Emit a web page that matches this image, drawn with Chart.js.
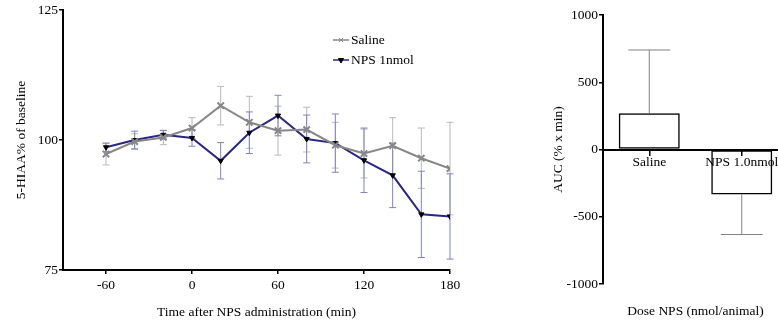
<!DOCTYPE html>
<html>
<head>
<meta charset="utf-8">
<script src="https://cdn.jsdelivr.net/npm/chart.js"></script>
<style>
  body { margin: 0; background: #fff; overflow: hidden; width: 778px; height: 324px; position: relative; }
  canvas { position: absolute; top: 0; }
  #timeChart { left: 0; }
  #aucChart { left: 540px; }
</style>
</head>
<body>
<canvas id="timeChart" width="470" height="324"></canvas>
<canvas id="aucChart" width="250" height="324"></canvas>
<script>
// time course, % of baseline
var times = [-60, -40, -20, 0, 20, 40, 60, 80, 100, 120, 140, 160, 180];
var saline = [97.3, 99.7, 100.5, 102.3, 106.6, 103.4, 101.8, 102.0, 99.0, 97.4, 98.9, 96.5, 94.5];
var salineErr = [2.1, 1.5, 1.4, 2.0, 3.7, 5.0, 4.7, 4.3, 4.4, 4.7, 5.4, 5.8, 8.9];
var nps = [98.6, 100.0, 101.0, 100.4, 96.0, 101.4, 104.7, 100.2, 99.4, 96.1, 93.2, 85.7, 85.3];
var npsErr = [0.8, 1.7, 0.8, 1.6, 3.5, 4.0, 3.9, 4.6, 5.6, 6.2, 6.2, 8.3, 8.2];
var xTicks = [-60, 0, 60, 120, 180];
var yTicks = [75, 100, 125];

// area under curve
var aucLabels = ['Saline', 'NPS 1.0nmol'];
var auc = [270, -335];
var aucErr = [470, 297];

Chart.defaults.font.family = "'Liberation Serif', 'Times New Roman', serif";
Chart.defaults.font.size = 13.5;
Chart.defaults.color = '#000';

// vertical error bars drawn from the dataset's "errors" array
var errorBars = {
  id: 'errorBars',
  beforeDatasetsDraw: function(chart) {
    var ctx = chart.ctx;
    var yScale = chart.scales.y;
    chart.data.datasets.forEach(function(ds, i) {
      if (!ds.errors) return;
      var meta = chart.getDatasetMeta(i);
      ctx.save();
      ctx.strokeStyle = ds.errorColor;
      ctx.lineWidth = 1;
      meta.data.forEach(function(el, j) {
        var v = ds.data[j];
        v = typeof v === 'object' ? v.y : v;
        var e = ds.errors[j];
        var hi = v + e, lo = v - e;
        if (ds.errorAway) { if (v >= 0) lo = v; else hi = v; }
        var yHi = yScale.getPixelForValue(hi), yLo = yScale.getPixelForValue(lo);
        var w = ds.capWidth;
        ctx.beginPath();
        ctx.moveTo(el.x, yHi); ctx.lineTo(el.x, yLo);
        if (!ds.errorAway || v >= 0) { ctx.moveTo(el.x - w, yHi); ctx.lineTo(el.x + w, yHi); }
        if (!ds.errorAway || v < 0) { ctx.moveTo(el.x - w, yLo); ctx.lineTo(el.x + w, yLo); }
        ctx.stroke();
      });
      ctx.restore();
    });
  }
};

// small legend with line + marker, inside the plot
var lineLegend = {
  id: 'lineLegend',
  afterDraw: function(chart) {
    var ctx = chart.ctx;
    var area = chart.chartArea;
    chart.data.datasets.forEach(function(ds, i) {
      var x = area.left + 270, y = area.top + 30 + i * 20;
      ctx.save();
      ctx.strokeStyle = ds.borderColor;
      ctx.lineWidth = 1.5;
      ctx.beginPath(); ctx.moveTo(x, y); ctx.lineTo(x + 16, y); ctx.stroke();
      ctx.fillStyle = ds.pointBackgroundColor;
      ctx.strokeStyle = ds.pointBorderColor;
      ctx.lineWidth = 1;
      Chart.helpers.drawPoint(ctx, { pointStyle: ds.pointStyle, rotation: ds.pointRotation || 0, radius: 3, borderWidth: 1 }, x + 8, y);
      ctx.fillStyle = '#000';
      ctx.font = "13.5px 'Liberation Serif', serif";
      ctx.textAlign = 'left';
      ctx.textBaseline = 'middle';
      ctx.fillText(ds.label, x + 18, y);
      ctx.restore();
    });
  }
};

var axisStyle = {
  border: { display: true, color: '#000', width: 2 },
  grid: { drawOnChartArea: false, drawTicks: true, tickLength: 4, color: '#000', lineWidth: 1.5 }
};

new Chart(document.getElementById('timeChart'), {
  type: 'line',
  data: {
    datasets: [{
      label: 'Saline',
      data: times.map(function(t, i) { return { x: t, y: saline[i] }; }),
      errors: salineErr,
      errorColor: 'rgb(185,185,185)',
      capWidth: 3.5,
      borderColor: 'rgb(135,135,135)',
      borderWidth: 2,
      pointStyle: 'crossRot',
      pointRadius: 4.5,
      pointBorderWidth: 2,
      pointBorderColor: 'rgb(135,135,135)',
      pointBackgroundColor: 'rgb(135,135,135)',
      tension: 0
    }, {
      label: 'NPS 1nmol',
      data: times.map(function(t, i) { return { x: t, y: nps[i] }; }),
      errors: npsErr,
      errorColor: 'rgb(130,130,195)',
      capWidth: 3.5,
      borderColor: 'rgb(40,40,130)',
      borderWidth: 2,
      pointStyle: 'triangle',
      pointRotation: 180,
      pointRadius: 3,
      pointBorderWidth: 1,
      pointBorderColor: '#000',
      pointBackgroundColor: '#000',
      tension: 0
    }]
  },
  options: {
    responsive: false,
    animation: false,
    layout: { padding: { left: 0, right: 20, top: 10, bottom: 0 } },
    plugins: { legend: { display: false }, tooltip: { enabled: false } },
    scales: {
      x: Object.assign({
        type: 'linear',
        min: -90,
        max: 180,
        afterBuildTicks: function(s) { s.ticks = xTicks.map(function(v) { return { value: v }; }); },
        afterFit: function(s) { s.height = 54; },
        ticks: { padding: 3 },
        title: { display: true, text: 'Time after NPS administration (min)', padding: { top: 3, bottom: 3 } }
      }, axisStyle),
      y: Object.assign({
        min: 75,
        max: 125,
        afterBuildTicks: function(s) { s.ticks = yTicks.map(function(v) { return { value: v }; }); },
        afterFit: function(s) { s.width = 63; },
        ticks: { padding: 1 },
        title: { display: true, text: '5-HIAA% of baseline', padding: { top: 13, bottom: 13 } }
      }, axisStyle)
    }
  },
  plugins: [errorBars, lineLegend]
});

// x axis title for the bar chart (the x axis itself sits on zero)
var bottomTitle = {
  id: 'bottomTitle',
  afterDraw: function(chart) {
    var ctx = chart.ctx, area = chart.chartArea;
    ctx.save();
    ctx.fillStyle = '#000';
    ctx.font = "13.5px 'Liberation Serif', serif";
    ctx.textAlign = 'center';
    ctx.textBaseline = 'middle';
    ctx.fillText('Dose NPS (nmol/animal)', (area.left + area.right) / 2, area.bottom + 27);
    ctx.restore();
  }
};

new Chart(document.getElementById('aucChart'), {
  type: 'bar',
  data: {
    labels: aucLabels,
    datasets: [{
      label: 'AUC',
      data: auc,
      errors: aucErr,
      errorAway: true,
      errorColor: 'rgb(130,130,130)',
      capWidth: 21,
      backgroundColor: 'rgba(255,255,255,0)',
      borderColor: '#000',
      borderWidth: 1.5,
      borderSkipped: false,
      barPercentage: 0.66,
      categoryPercentage: 1
    }]
  },
  options: {
    responsive: false,
    animation: false,
    layout: { padding: { left: 0, right: 2, top: 15, bottom: 40 } },
    plugins: { legend: { display: false }, tooltip: { enabled: false } },
    scales: {
      x: {
        position: { y: 0 },
        ticks: { padding: 0 },
        border: { display: true, color: '#000', width: 2 },
        grid: { drawOnChartArea: false, drawTicks: true, tickLength: 5, color: '#000', lineWidth: 1.5, offset: false }
      },
      y: Object.assign({
        min: -1000,
        max: 1000,
        ticks: { stepSize: 500, padding: 1, callback: function(v) { return String(v); } },
        afterFit: function(s) { s.width = 63; },
        title: { display: true, text: 'AUC (% x min)', padding: { top: 10, bottom: 10 } }
      }, axisStyle)
    }
  },
  plugins: [errorBars, bottomTitle]
});
</script>
</body>
</html>
